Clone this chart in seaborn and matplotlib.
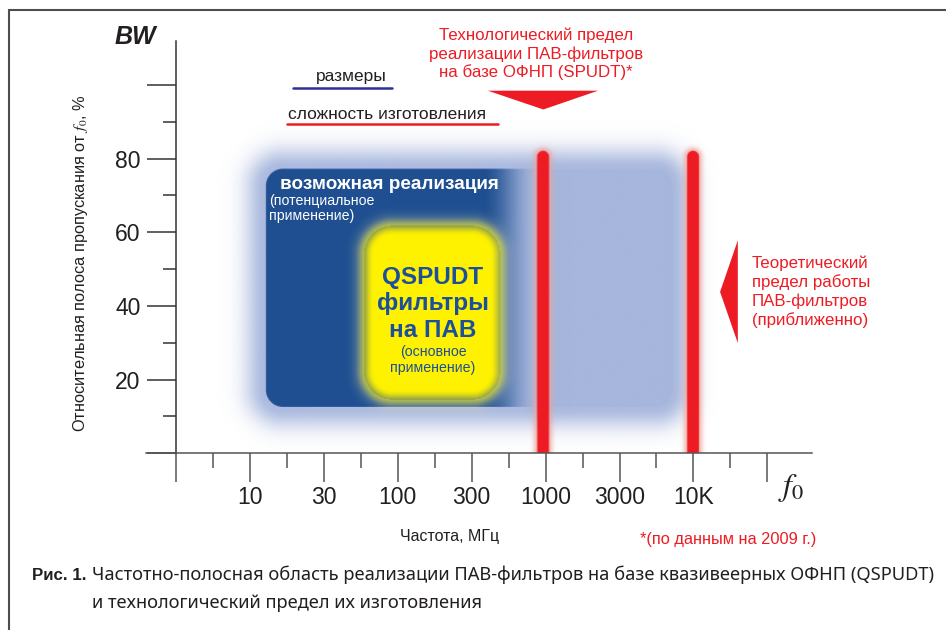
import numpy as np
import matplotlib
matplotlib.use("Agg")
import matplotlib.pyplot as plt
import matplotlib.colors as mcolors
from matplotlib.lines import Line2D
import seaborn as sns

# ---------------- data ----------------
freq_pos = [0, 1, 2, 3, 4, 5, 6, 7, 8]
freq_labels = ["", "10", "30", "100", "300", "1000", "3000", "10K", ""]
freq_minor = [0.5, 1.5, 2.5, 3.5, 4.5, 5.5, 6.5, 7.5]
bw_major = [0, 20, 40, 60, 80, 100]
bw_labels = ["", "20", "40", "60", "80", ""]
bw_minor = [10, 30, 50, 70, 90]

possible_x = [1.22, 6.72]      # "возможная реализация" (freq index units)
possible_y = [12.4, 77.1]      # BW, %
dark_fade_x = [4.15, 4.9]      # dark blue fades to light blue here
main_x = [2.55, 4.39]          # QSPUDT main application
main_y = [14.4, 61.6]
limit_x = [4.97, 7.0]          # 1000 MHz technological limit, 10K theoretical limit
limit_top = 82.0

size_line_x = [1.59, 2.93]
size_line_y = [99.0, 99.0]
compl_line_x = [1.51, 4.36]
compl_line_y = [89.3, 89.3]

tech_arrow_x = [4.22, 5.71, 4.97]
tech_arrow_y = [98.4, 98.4, 93.3]
theo_arrow_x = [7.60, 7.60, 7.36]
theo_arrow_y = [57.8, 29.9, 43.8]

DARK = "#1f4f91"
LIGHT = "#a6b6dd"
YELLOW = "#fff200"
RED = "#ed1c24"
TEXTBLUE = "#1c4f9c"
INK = "#231f20"

# ---------------- figure ----------------
sns.set_theme(style="white")
plt.rcParams["font.family"] = ["Liberation Sans", "DejaVu Sans"]
plt.rcParams["mathtext.fontset"] = "stix"

W, H = 946, 630
fig = plt.figure(figsize=(W / 100, H / 100), dpi=100)
fig.patch.set_facecolor("white")

ox, sx = 175.8, 73.95     # px of x=0, px per unit
oy, sy = 453.3, 3.685     # px of y=0, px per unit
xlim = (-0.4, 8.6)
ylim = (0, 112)
ax_left = ox + xlim[0] * sx
ax = fig.add_axes([ax_left / W, (H - oy) / H,
                   (xlim[1] - xlim[0]) * sx / W, (ylim[1] - ylim[0]) * sy / H])
ax.set_facecolor("none")


def F(px, py):
    return px / W, 1 - py / H


# ---------------- background shading image ----------------
def smooth(t):
    t = np.clip(t, 0, 1)
    return t * t * (3 - 2 * t)


def sd_round_rect(PX, PY, x0, x1, y0, y1, r):
    cx, cy = (x0 + x1) / 2, (y0 + y1) / 2
    hx, hy = (x1 - x0) / 2 - r, (y1 - y0) / 2 - r
    qx = np.abs(PX - cx) - hx
    qy = np.abs(PY - cy) - hy
    out = np.hypot(np.maximum(qx, 0), np.maximum(qy, 0))
    ins = np.minimum(np.maximum(qx, qy), 0)
    return out + ins - r


# premultiplied compositing
ex = (0.05, 8.4)
ey = (0.0, 100.0)
nx = int((ex[1] - ex[0]) * sx)
ny = int((ey[1] - ey[0]) * sy)
xs = np.linspace(ex[0], ex[1], nx)
ys = np.linspace(ey[1], ey[0], ny)
X, Y = np.meshgrid(xs, ys)
PX, PY = X * sx, Y * sy

prem = np.zeros((ny, nx, 3))
alpha = np.zeros((ny, nx))


def over(color, a):
    global prem, alpha
    c = np.array(mcolors.to_rgb(color))
    prem = prem * (1 - a[..., None]) + c * a[..., None]
    alpha = alpha * (1 - a) + a


d_b = sd_round_rect(PX, PY, possible_x[0] * sx, possible_x[1] * sx,
                    possible_y[0] * sy, possible_y[1] * sy, 17)
over(LIGHT, np.where(d_b <= 0, 1.0, 0.95 * np.exp(-(d_b / 21.0) ** 2)))
edge = np.clip(0.5 - d_b, 0, 1)
fade = 1 - smooth((X - dark_fade_x[0]) / (dark_fade_x[1] - dark_fade_x[0]))
over(DARK, edge * fade)

d_y = sd_round_rect(PX, PY, main_x[0] * sx, main_x[1] * sx,
                    main_y[0] * sy, main_y[1] * sy, 28)
over("#fdf6a0", np.where(d_y > 0, 0.35 * np.exp(-(d_y / 10.0) ** 2), 0.0))
over(YELLOW, smooth((10 - d_y) / 20))

for lx in limit_x:
    r = 6.0
    topc = limit_top * sy - r
    dx = PX - lx * sx
    d = np.where(PY > topc, np.hypot(dx, PY - topc), np.abs(dx)) - r
    over("#f0a39c", np.where(d > 0, 0.7 * np.exp(-(d / 4.0) ** 2), 0.0))
    over(RED, np.clip(0.5 - d, 0, 1))

alpha = np.where(alpha < 0.004, 0.0, alpha)
rgb = np.clip(prem / np.maximum(alpha, 1e-6)[..., None], 0, 1)
rgba = np.dstack([rgb, alpha])

ax.imshow(rgba, extent=(ex[0], ex[1], ey[0], ey[1]), origin="upper",
          aspect="auto", interpolation="bilinear", zorder=1)

# arrows and legend lines
ax.fill(tech_arrow_x, tech_arrow_y, color=RED, lw=0, zorder=3)
ax.fill(theo_arrow_x, theo_arrow_y, color=RED, lw=0, zorder=3)
sns.lineplot(x=size_line_x, y=size_line_y, ax=ax, color="#2e3192", linewidth=1.8, zorder=3)
sns.lineplot(x=compl_line_x, y=compl_line_y, ax=ax, color=RED, linewidth=1.8, zorder=3)

# ---------------- axes ----------------
ax.set_xlim(*xlim)
ax.set_ylim(*ylim)
for s in ["top", "right"]:
    ax.spines[s].set_visible(False)
ax.spines["left"].set_position(("data", 0))
ax.spines["bottom"].set_position(("data", 0))
ax.spines["left"].set_color("#333333")
ax.spines["bottom"].set_color("#555555")
ax.spines["left"].set_linewidth(1.1)
ax.spines["bottom"].set_linewidth(1.1)
ax.spines["left"].set_zorder(5)
ax.spines["bottom"].set_zorder(5)

ax.set_xticks(freq_pos, freq_labels)
ax.set_xticks(freq_minor, minor=True)
ax.set_yticks(bw_major, bw_labels)
ax.set_yticks(bw_minor, minor=True)
ax.tick_params(axis="x", which="major", bottom=True, direction="out", length=20.9,
               width=1.1, color="#555555", pad=3, labelsize=16.5, labelcolor=INK)
ax.tick_params(axis="x", which="minor", bottom=True, direction="out", length=10.8,
               width=1.1, color="#555555")
ax.tick_params(axis="y", which="major", left=True, direction="out", length=20.9,
               width=1.1, color="#333333", pad=4.5, labelsize=16.5, labelcolor=INK)
ax.tick_params(axis="y", which="minor", left=True, direction="out", length=9.4,
               width=1.1, color="#333333")
ax.grid(False)

# ---------------- texts ----------------
fig.text(*F(115, 44), "BW", fontsize=18, fontweight="bold", fontstyle="italic",
         color=INK, ha="left", va="baseline")
fig.text(*F(80, 263), "Относительная полоса пропускания от $f_{\\mathit{0}}$, %",
         rotation=90, fontsize=11.8, color=INK, ha="center", va="center")
fig.text(*F(778, 495), "$f_{\\mathit{0}}$", fontsize=23, color=INK,
         ha="left", va="baseline")
fig.text(*F(400, 541), "Частота, МГц", fontsize=11.5, color=INK, ha="left", va="baseline")
fig.text(*F(640, 544), "*(по данным на 2009 г.)", fontsize=11.8, color=RED,
         ha="left", va="baseline")

for i, line in enumerate(["Технологический предел", "реализации ПАВ-фильтров",
                          "на базе ОФНП (SPUDT)*"]):
    fig.text(*F(536, 40 + 18.7 * i), line, fontsize=12.2, color=RED,
             ha="center", va="baseline")
for i, line in enumerate(["Теоретический", "предел работы", "ПАВ-фильтров",
                          "(приближенно)"]):
    fig.text(*F(752, 268 + 19.1 * i), line, fontsize=12.2, color=RED,
             ha="left", va="baseline")

fig.text(*F(351, 81), "размеры", fontsize=12.5, color=INK, ha="center", va="baseline")
fig.text(*F(288, 119), "сложность изготовления", fontsize=12.5, color=INK,
         ha="left", va="baseline")

fig.text(*F(280, 189), "возможная реализация", fontsize=13.6, fontweight="bold",
         color="white", ha="left", va="baseline")
fig.text(*F(269, 205), "(потенциальное", fontsize=10.2, color="white",
         ha="left", va="baseline")
fig.text(*F(269, 220), "применение)", fontsize=10.2, color="white",
         ha="left", va="baseline")

for line, yb in zip(["QSPUDT", "фильтры", "на ПАВ"], [284, 310, 337]):
    fig.text(*F(433, yb), line, fontsize=17.5, fontweight="bold", color=TEXTBLUE,
             ha="center", va="baseline")
for line, yb in zip(["(основное", "применение)"], [356, 372]):
    fig.text(*F(433, yb), line, fontsize=10.2, color=TEXTBLUE,
             ha="center", va="baseline")

# caption
fig.text(*F(32, 580), "Рис. 1.", fontsize=12.2, fontweight="bold", color=INK,
         family=["Liberation Sans", "DejaVu Sans"], ha="left", va="baseline")
fig.text(*F(92, 580),
         "Частотно-полосная область реализации ПАВ-фильтров на базе квазивеерных ОФНП (QSPUDT)",
         fontsize=13.2, color=INK, family=["Noto Sans", "DejaVu Sans"],
         ha="left", va="baseline")
fig.text(*F(92, 608), "и технологический предел их изготовления", fontsize=13.2,
         color=INK, family=["Noto Sans", "DejaVu Sans"], ha="left", va="baseline")

# frame
fig.add_artist(Line2D([9 / W, 1.0], [1 - 10 / H, 1 - 10 / H], transform=fig.transFigure,
                      color="#4d4d4d", lw=1.5))
fig.add_artist(Line2D([9 / W, 9 / W], [0.0, 1 - 10 / H], transform=fig.transFigure,
                      color="#4d4d4d", lw=1.5))

fig.savefig("out.png", dpi=100)
